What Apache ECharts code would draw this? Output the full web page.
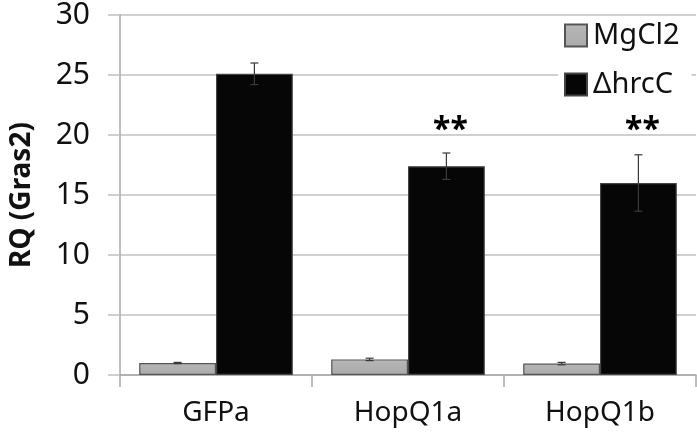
<!DOCTYPE html>
<html><head><meta charset="utf-8">
<script src="https://cdn.jsdelivr.net/npm/echarts@6/dist/echarts.min.js"></script>
<style>html,body{margin:0;padding:0;background:#fff}#c{width:697px;height:432px}</style>
</head><body><div id="c"></div>
<script>
const categories = ['GFPa', 'HopQ1a', 'HopQ1b'];
const seriesNames = ['MgCl2', 'ΔhrcC'];
const mgcl2 = [1.0, 1.3, 0.95];
const mgcl2Err = [0.05, 0.1, 0.1];
const hrcc = [25.1, 17.4, 16.0];
const hrccErr = [0.9, 1.1, 2.35];
const stars = ['', '**', '**'];
const starLevel = [null, 20.7, 20.7];
const yTicks = [0, 5, 10, 15, 20, 25, 30];

const FONT = 'Noto Sans';
const chart = echarts.init(document.getElementById('c'), null, {renderer: 'canvas'});

function errSeries(vals, errs, offset) {
  return {
    type: 'custom', z: 5, silent: true,
    data: vals.map((v, i) => [i, v, errs[i]]),
    renderItem: function (params, api) {
      const i = api.value(0), v = api.value(1), e = api.value(2);
      const band = api.size([1, 0])[0];
      const c = api.coord([i, v]);
      const x = c[0] + offset * band;
      const yt = api.coord([i, v + e])[1];
      const yb = api.coord([i, v - e])[1];
      const w = 4;
      const st = {stroke: '#3a3a3a', lineWidth: 1.2};
      return {type: 'group', children: [
        {type: 'line', shape: {x1: x, y1: yt, x2: x, y2: yb}, style: st},
        {type: 'line', shape: {x1: x - w, y1: yt, x2: x + w, y2: yt}, style: st},
        {type: 'line', shape: {x1: x - w, y1: yb, x2: x + w, y2: yb}, style: st}
      ]};
    }
  };
}

chart.setOption({
  animation: false,
  textStyle: {fontFamily: FONT},
  grid: {left: 116, right: 1, top: 15, bottom: 57, containLabel: false},
  legend: {
    orient: 'vertical', left: 558, top: 17,
    itemWidth: 22, itemHeight: 22, itemGap: 20,
    icon: 'rect',
    backgroundColor: '#fff', padding: [4, 12, 4, 6],
    textStyle: {fontSize: 29, lineHeight: 26, color: '#111', fontFamily: FONT, padding: [0, 0, 0, 1]},
    data: seriesNames
  },
  xAxis: {
    type: 'category', data: categories,
    axisLine: {lineStyle: {color: '#a8a8a8', width: 1.5}},
    axisTick: {show: true, length: 12, lineStyle: {color: '#a8a8a8', width: 1.5}},
    axisLabel: {fontSize: 28, color: '#111', margin: 24, fontFamily: FONT}
  },
  yAxis: {
    type: 'value', min: 0, max: 30, interval: 5,
    name: 'RQ (Gras2)', nameLocation: 'middle', nameGap: 84, nameRotate: 90,
    nameTextStyle: {fontSize: 28, fontWeight: 'bold', color: '#111', fontFamily: FONT},
    axisLine: {show: true, lineStyle: {color: '#a8a8a8', width: 1.5}},
    axisTick: {show: true, length: 12, lineStyle: {color: '#c0c0c0', width: 1.5}},
    splitLine: {lineStyle: {color: '#c0c0c0', width: 1.5}},
    axisLabel: {fontSize: 30, color: '#111', margin: 30, fontFamily: FONT,
      formatter: v => yTicks.includes(v) ? String(v) : ''}
  },
  series: [
    {name: seriesNames[0], type: 'bar', data: mgcl2, barWidth: '40%', barGap: '0%', barCategoryGap: '20%',
      itemStyle: {color: new echarts.graphic.LinearGradient(0, 0, 0, 1, [{offset: 0, color: '#d0d0d0'}, {offset: 0.15, color: '#b4b4b4'}, {offset: 1, color: '#ababab'}]),
        borderColor: '#555', borderWidth: 1.2}},
    {name: seriesNames[1], type: 'bar', data: hrcc, barWidth: '40%', barGap: '0%',
      itemStyle: {color: '#060606', borderColor: '#444', borderWidth: 1.2}},
    errSeries(mgcl2, mgcl2Err, -0.2),
    errSeries(hrcc, hrccErr, 0.2),
    {
      type: 'custom', z: 6, silent: true,
      data: starLevel.map((v, i) => [i, v, stars[i]]),
      renderItem: function (params, api) {
        const i = api.value(0), v = api.value(1);
        if (!stars[i]) return null;
        const band = api.size([1, 0])[0];
        const c = api.coord([i, v]);
        return {type: 'text', style: {x: c[0] + 0.2 * band + 4, y: c[1] + 4, text: stars[i],
          align: 'center', verticalAlign: 'middle', fontSize: 32, fontWeight: 'bold', fill: '#000', fontFamily: FONT}};
      }
    }
  ]
});
</script></body></html>
